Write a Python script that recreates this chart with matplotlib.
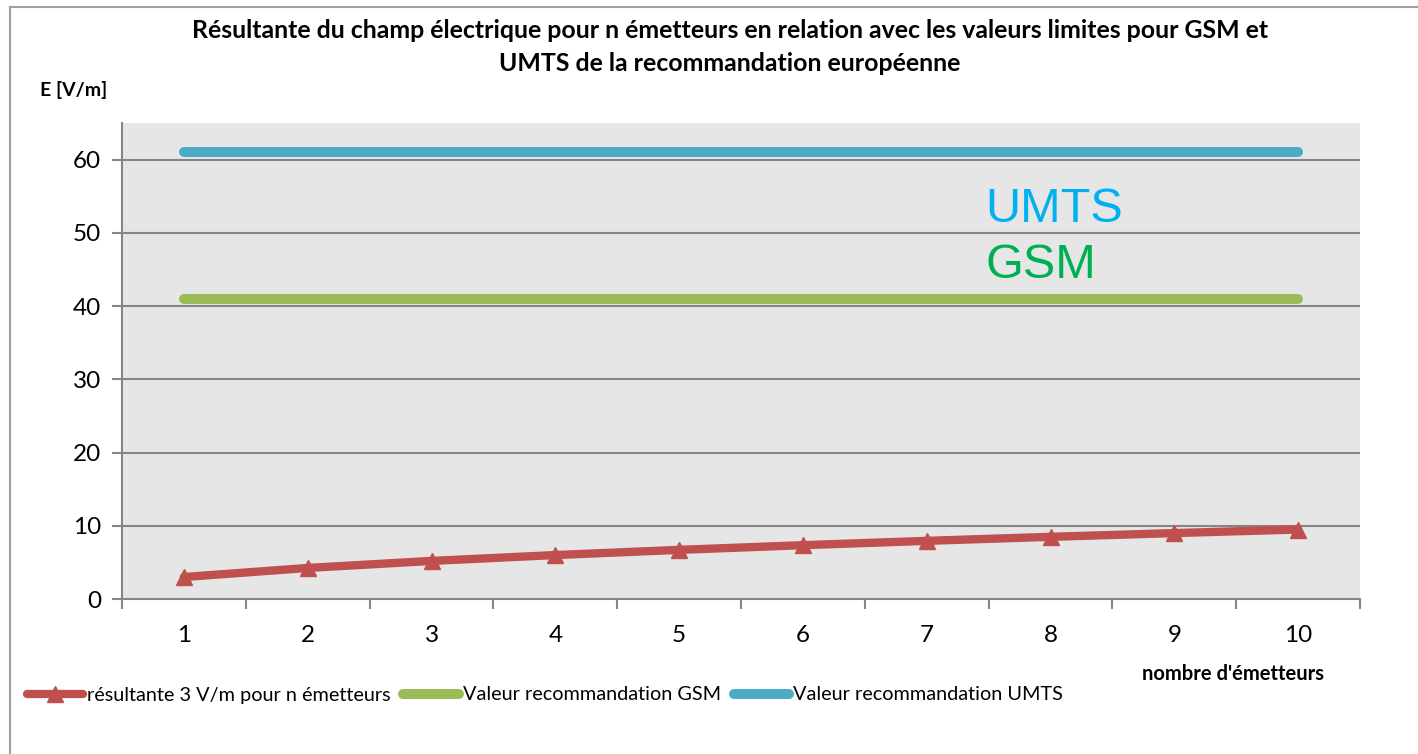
import matplotlib
matplotlib.use("Agg")
import matplotlib.pyplot as plt
from matplotlib.lines import Line2D

categories = [1, 2, 3, 4, 5, 6, 7, 8, 9, 10]
resultante = [3.0, 4.24, 5.2, 6.0, 6.71, 7.35, 7.94, 8.49, 9.0, 9.49]
gsm = [41, 41, 41, 41, 41, 41, 41, 41, 41, 41]
umts = [61, 61, 61, 61, 61, 61, 61, 61, 61, 61]
yticks = [0, 10, 20, 30, 40, 50, 60]

title = ("Résultante du champ électrique pour n émetteurs en relation avec les valeurs limites pour GSM et\n"
         "UMTS de la recommandation européenne")
labels = ["résultante 3 V/m pour n émetteurs", "Valeur recommandation GSM", "Valeur recommandation UMTS"]

RED = "#C0504D"
GREEN = "#9BBB59"
BLUE = "#4BACC6"
GRID = "#868686"

plt.rcParams['font.family'] = ['Lato', 'DejaVu Sans']

W, H = 1418, 754
fig = plt.figure(figsize=(W/100, H/100), dpi=100)
ax = fig.add_axes([122/W, 1-599/H, (1360-122)/W, (599-123)/H])
ax.set_facecolor("#E6E6E6")

x = list(range(1, len(categories) + 1))
l_umts, = ax.plot(x, umts, color=BLUE, lw=7.2, solid_capstyle='round', zorder=3)
l_gsm, = ax.plot(x, gsm, color=GREEN, lw=7.2, solid_capstyle='round', zorder=3)
l_red, = ax.plot(x, resultante, color=RED, lw=6, marker='^', markersize=11,
                 solid_capstyle='round', zorder=4)

ax.set_xlim(0.5, len(categories) + 0.5)
ax.set_ylim(0, 65)
ax.set_yticks(yticks)
ax.set_yticklabels([str(v) for v in yticks], fontsize=17.5)
ax.set_xticks(x)
ax.set_xticklabels([str(c) for c in categories], fontsize=17.5)
ax.set_xticks([i + 0.5 for i in range(len(categories) + 1)], minor=True)
ax.tick_params(axis='x', which='major', length=0, pad=19)
ax.tick_params(axis='x', which='minor', length=7, width=1.5, color=GRID, direction='out')
ax.tick_params(axis='y', length=7, width=1.5, color=GRID, direction='out', pad=8)

ax.grid(axis='y', color=GRID, lw=1.5, zorder=1)
ax.set_axisbelow(True)
for s in ['top', 'right']:
    ax.spines[s].set_visible(False)
for s in ['left', 'bottom']:
    ax.spines[s].set_color(GRID)
    ax.spines[s].set_linewidth(1.5)

fig.text(985/W, 1-222/H, "UMTS", fontsize=35, color="#00B0F0",
         family=['Liberation Sans', 'DejaVu Sans'], va='baseline', ha='left')
fig.text(985/W, 1-278/H, "GSM", fontsize=35, color="#00B050",
         family=['Liberation Sans', 'DejaVu Sans'], va='baseline', ha='left')

fig.text(730/W, 1-47/H, title, ha='center', va='center', fontsize=17.9,
         fontweight='bold', linespacing=1.5)
fig.text(40/W, 1-90/H, "E [V/m]", ha='left', va='center', fontsize=14, fontweight='bold')
fig.text(1233/W, 1-674/H, "nombre d'émetteurs", ha='center', va='center',
         fontsize=14.5, fontweight='bold')

fig.legend([l_red, l_gsm, l_umts], labels, loc='center left',
           bbox_to_anchor=(27/W, 1-695/H), ncol=3, frameon=False,
           fontsize=14.3, handlelength=2.8, handletextpad=0.2, columnspacing=0.65,
           borderaxespad=0, borderpad=0)

# outer chart border (top and left edges visible)
fig.add_artist(Line2D([10/W, 10/W], [0, 1-7/H], transform=fig.transFigure,
                      color="#A0A0A0", lw=1.5))
fig.add_artist(Line2D([10/W, 1], [1-7/H, 1-7/H], transform=fig.transFigure,
                      color="#A0A0A0", lw=1.5))

fig.savefig("out.png", dpi=100)
